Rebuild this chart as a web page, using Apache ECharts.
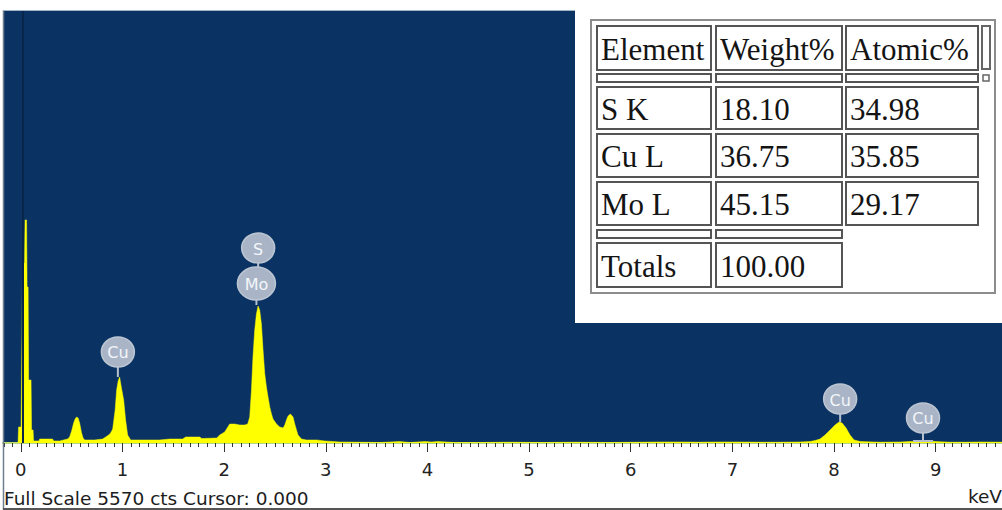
<!DOCTYPE html>
<html><head><meta charset="utf-8">
<script src="https://cdn.jsdelivr.net/npm/echarts@6/dist/echarts.min.js"></script>
<style>html,body{margin:0;padding:0;background:#fff;overflow:hidden}#c{width:1002px;height:510px}</style>
</head><body><div id="c"></div>
<script>
// ---- data ----
const spectrumEnergy = [-0.175,-0.027,-0.022,0.003,0.013,0.018,0.037,0.042,0.057,0.062,
0.072,0.077,0.101,0.106,0.121,0.126,0.180,0.185,0.313,0.323,
0.382,0.421,0.461,0.480,0.500,0.520,0.534,0.549,0.564,0.579,
0.598,0.613,0.628,0.726,0.805,0.835,0.864,0.884,0.904,0.918,
0.928,0.943,0.958,0.972,0.982,0.992,1.012,1.031,1.051,1.081,
1.169,1.268,1.366,1.465,1.592,1.622,1.760,1.780,1.927,1.957,
2.006,2.055,2.104,2.154,2.203,2.232,2.252,2.269,2.284,2.301,
2.318,2.334,2.350,2.367,2.383,2.400,2.416,2.432,2.449,2.466,
2.481,2.515,2.547,2.580,2.597,2.613,2.629,2.653,2.678,2.695,
2.712,2.727,2.761,2.810,2.911,2.990,3.138,3.337,3.531,3.728,
3.826,3.974,4.043,4.102,4.270,4.516,4.811,5.155,5.451,5.795,
6.091,6.287,6.484,6.681,6.858,7.045,7.272,7.469,7.665,7.764,
7.813,7.862,7.911,7.961,8.010,8.049,8.079,8.118,8.157,8.197,
8.256,8.453,8.650,8.748,8.846,8.915,8.994,9.142,9.289,9.437,
9.652];
const spectrumCounts = [0,0,206,206,1544,2316,2316,2869,2869,2007,
2007,810,810,167,167,26,26,51,51,26,
26,39,51,77,154,257,309,334,322,257,
129,64,39,39,51,77,103,129,180,322,
424,682,798,849,772,695,553,296,103,39,
39,39,39,51,51,77,77,58,64,103,
142,244,244,232,232,244,334,682,1106,1454,
1659,1762,1711,1531,1196,888,720,592,463,373,
309,244,206,193,232,296,347,373,334,244,
167,103,51,39,39,26,13,10,6,19,
6,19,13,19,6,6,10,6,10,6,
10,13,13,10,13,13,10,10,13,19,
32,51,103,167,232,270,257,193,103,39,
19,10,13,19,19,32,19,10,10,13,
10];
const tickValues = [0,1,2,3,4,5,6,7,8,9];
const tickLabels = ['0','1','2','3','4','5','6','7','8','9'];
const minorPerKeV = 12;
const peakNames = ['Cu','S','Mo','Cu','Cu'];
const peakEnergy = [0.955,2.335,2.318,8.06,8.875];
const peakLabelCounts = [1171,2508,2052,566,322];
const peakTipCounts = [849,2264,1775,270,26];
const fullScale = 5570;
const cursorKeV = '0.000';
const cursorLineKeV = 0.017;
const axisMin = -0.175, axisMax = 9.652;
const tableHeader = ['Element','Weight%','Atomic%'];
const tableElements = ['S K','Cu L','Mo L'];
const weightPct = ['18.10','36.75','45.15'];
const atomicPct = ['34.98','35.85','29.17'];
const totalsRow = ['Totals','100.00'];

// ---- chart ----
const chart = echarts.init(document.getElementById('c'), null, {renderer:'svg', width:1002, height:510});
const minorTicks = [];
for (let k = -2; k / minorPerKeV <= axisMax; k++) minorTicks.push(k / minorPerKeV);

const colX = [597, 716, 846], colW = [114, 126, 132];
const rowsGeom = [
  {y:26, h:44, cells:tableHeader},
  {y:74, h:8, cells:['','','']},
  {y:87, h:42, cells:[tableElements[0], weightPct[0], atomicPct[0]]},
  {y:134, h:43, cells:[tableElements[1], weightPct[1], atomicPct[1]]},
  {y:182, h:43, cells:[tableElements[2], weightPct[2], atomicPct[2]]},
  {y:230, h:8, cells:['','']},
  {y:243, h:44, cells:totalsRow}
];
const graphics = [
  {type:'rect', z:100, shape:{x:575, y:0, width:427, height:323}, style:{fill:'#ffffff'}},
  {type:'rect', z:101, shape:{x:591, y:20, width:404, height:273}, style:{fill:'none', stroke:'#8c8c8c', lineWidth:2}},
  {type:'rect', z:101, shape:{x:982, y:26, width:8, height:43}, style:{fill:'none', stroke:'#666', lineWidth:2}},
  {type:'rect', z:101, shape:{x:983, y:75, width:6, height:6}, style:{fill:'none', stroke:'#666', lineWidth:1.5}},
  // frame of the spectrum panel
  {type:'line', z:90, shape:{x1:3.5, y1:10, x2:3.5, y2:510}, style:{stroke:'#6f7f90', lineWidth:1.5}},
  {type:'line', z:90, shape:{x1:3, y1:10.5, x2:575, y2:10.5}, style:{stroke:'#9fb2c6', lineWidth:1}},
  {type:'line', z:90, shape:{x1:3, y1:509, x2:1002, y2:509}, style:{stroke:'#555', lineWidth:2}},
  {type:'text', z:90, style:{text:'Full Scale ' + fullScale + ' cts Cursor: ' + cursorKeV, x:4, y:498, verticalAlign:'middle', fill:'#1c1c1c', font:'18.5px "DejaVu Sans"'}},
  {type:'text', z:90, style:{text:'keV', x:1002, y:496, align:'right', verticalAlign:'middle', fill:'#1c1c1c', font:'18.5px "DejaVu Sans"'}}
];
rowsGeom.forEach(r => {
  r.cells.forEach((t, i) => {
    graphics.push({type:'rect', z:101, shape:{x:colX[i], y:r.y, width:colW[i], height:r.h}, style:{fill:'none', stroke:'#555', lineWidth:2}});
    if (t) graphics.push({type:'text', z:102, style:{text:t, x:colX[i] + 4, y:r.y + r.h / 2 + 1, verticalAlign:'middle', fill:'#141414', font:'31px "Liberation Serif"'}});
  });
});

const option = {
  animation:false,
  grid:{left:3, right:0, top:10, bottom:67, show:true, backgroundColor:'#0a3364', borderWidth:0, containLabel:false},
  xAxis:[
    {type:'value', min:axisMin, max:axisMax, position:'bottom',
     axisLine:{show:true, onZero:false, lineStyle:{color:'#b3d48a', width:2}},
     axisTick:{show:true, customValues:minorTicks, length:4, lineStyle:{color:'#333', width:1}},
     axisLabel:{show:false}, splitLine:{show:false}},
    {type:'value', min:axisMin, max:axisMax, position:'bottom',
     axisLine:{show:false},
     axisTick:{show:true, customValues:tickValues, length:9, lineStyle:{color:'#333', width:1}},
     axisLabel:{show:true, customValues:tickValues, formatter:v => tickLabels[tickValues.indexOf(Math.round(v))],
       color:'#222', fontSize:18, fontFamily:'DejaVu Sans', margin:17},
     splitLine:{show:false}}
  ],
  yAxis:{type:'value', min:0, max:fullScale, show:false},
  series:[
    {type:'line', xAxisIndex:0, data:spectrumEnergy.map((e, i) => [e, spectrumCounts[i]]),
     showSymbol:false, symbol:'none', sampling:null,
     lineStyle:{color:'#ffff00', width:0.5}, areaStyle:{color:'#ffff00', opacity:1},
     markLine:{silent:true, symbol:'none', label:{show:false}, lineStyle:{color:'#07264a', width:2, type:'solid'},
       data:[{xAxis:cursorLineKeV}]}},
    {type:'custom', xAxisIndex:0, z:5, clip:false,
     data:peakEnergy.map((e, i) => [e, peakLabelCounts[i], peakTipCounts[i]]),
     renderItem:(params, api) => {
       const name = peakNames[params.dataIndex];
       const c = api.coord([api.value(0), api.value(1)]);
       const t = api.coord([api.value(0), api.value(2)]);
       const rx = name === 'Mo' ? 19 : 16.5, ry = name === 'Mo' ? 16.5 : 15;
       const ch = [
         {type:'line', shape:{x1:c[0], y1:c[1] + ry - 1, x2:c[0], y2:t[1]}, style:{stroke:'#b6c0cd', lineWidth:2}},
         {type:'ellipse', shape:{cx:c[0], cy:c[1], rx:rx, ry:ry}, style:{fill:'#a9b5c6', stroke:'#bcc6d3', lineWidth:1.5}},
         {type:'text', style:{text:name, x:c[0], y:c[1] + 1, align:'center', verticalAlign:'middle', fill:'#f3f6fa', font:'16px "DejaVu Sans"'}}
       ];
       if (api.value(2) < 100) ch.push({type:'line', shape:{x1:c[0] - 10, y1:t[1], x2:c[0] + 10, y2:t[1]}, style:{stroke:'#b6c0cd', lineWidth:2}});
       return {type:'group', children:ch};
     }}
  ],
  graphic:graphics
};
chart.setOption(option);
</script></body></html>
